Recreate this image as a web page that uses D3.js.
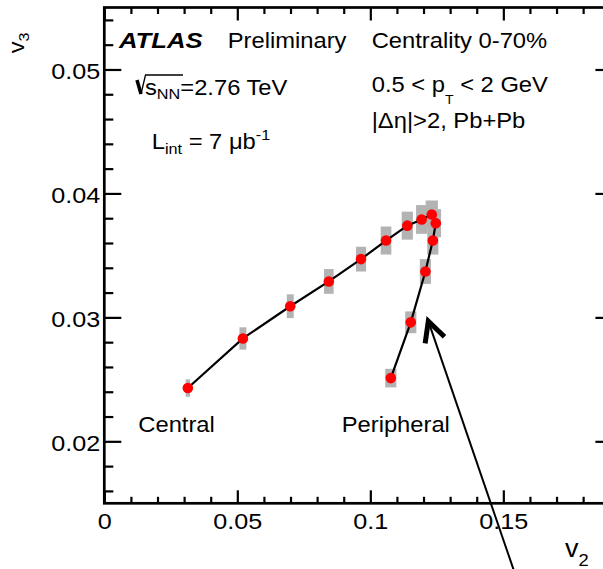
<!DOCTYPE html>
<html>
<head>
<meta charset="utf-8">
<script src="https://cdn.jsdelivr.net/npm/d3@7"></script>
<style>
body{margin:0;background:#fff}
svg{display:block;font-family:"Liberation Sans",Arial,sans-serif}
</style>
</head>
<body>
<script>
// v2 and v3 per centrality bin, going from central to peripheral
const v2 = [0.0314, 0.0521, 0.0699, 0.0844, 0.0965, 0.1059, 0.1139, 0.1193, 0.1231, 0.1246, 0.1235, 0.1207, 0.1152, 0.1077];
const v3 = [0.0243, 0.0283, 0.0309, 0.0329, 0.0347, 0.0362, 0.0374, 0.0379, 0.0383, 0.0376, 0.0362, 0.0337, 0.0296, 0.0251];
// half widths of the grey systematic boxes
const sysV2 = [0.0008, 0.0013, 0.0013, 0.0018, 0.0019, 0.0020, 0.0021, 0.0021, 0.0023, 0.0020, 0.0021, 0.0021, 0.0021, 0.0021];
const sysV3 = [0.0007, 0.0009, 0.00096, 0.0010, 0.0010, 0.00113, 0.00113, 0.00116, 0.00113, 0.00113, 0.00113, 0.0010, 0.00088, 0.00075];
const xTicks = [0, 0.05, 0.1, 0.15];
const yTicks = [0.02, 0.03, 0.04, 0.05];
// arrow pointing at the peripheral branch (tip, tail) in data units
const arrowTip = [0.1218, 0.0297];
const arrowTail = [0.1552, 0.0088];

const W = 603, H = 569;
const SX = 1.08; // the ROOT fonts are a bit wider than Liberation

const svg = d3.select("body").append("svg").attr("width", W).attr("height", H);

// right edge of the frame sits just outside the picture
const x = d3.scaleLinear().domain([0, 0.191]).range([104.3, 612.4]);
const y = d3.scaleLinear().domain([0.015, 0.055]).range([503.3, 7.5]);

const pts = v2.map((d, i) => ({x: d, y: v3[i], ex: sysV2[i], ey: sysV3[i]}));

// systematic boxes
svg.append("g").selectAll("rect")
  .data(pts)
  .join("rect")
  .attr("x", d => x(d.x - d.ex))
  .attr("y", d => y(d.y + d.ey))
  .attr("width", d => x(d.x + d.ex) - x(d.x - d.ex))
  .attr("height", d => y(d.y - d.ey) - y(d.y + d.ey))
  .attr("fill", "#b3b3b3");

// connecting line
svg.append("path")
  .datum(pts)
  .attr("fill", "none")
  .attr("stroke", "#000")
  .attr("stroke-width", 2.2)
  .attr("d", d3.line().x(d => x(d.x)).y(d => y(d.y)));

svg.append("g").selectAll("circle")
  .data(pts)
  .join("circle")
  .attr("cx", d => x(d.x))
  .attr("cy", d => y(d.y))
  .attr("r", 5.3)
  .attr("fill", "#ff0000");

// axes, ticks point inwards
const xMinor = d3.range(1, 20).filter(i => i % 5 !== 0).map(i => i / 100);
const yMinor = d3.range(16, 55, 2).filter(i => i % 10 !== 0).map(i => i / 1000);
const fmt = d => String(d);

function styleAxis(g) {
  g.select(".domain").remove();
  g.selectAll("line").attr("stroke-width", 2.2);
}

const gb = svg.append("g").attr("transform", `translate(0,${y.range()[0]})`);
gb.call(d3.axisBottom(x).tickValues(xTicks).tickSize(-13).tickPadding(10).tickFormat(fmt)).call(styleAxis);
gb.selectAll("text").attr("font-size", 22.5).attr("font-family", null).attr("transform", `scale(1.12,1)`);
svg.append("g").attr("transform", `translate(0,${y.range()[0]})`)
  .call(d3.axisBottom(x).tickValues(xMinor).tickSize(-6.5).tickFormat("")).call(styleAxis);

const gt = svg.append("g").attr("transform", `translate(0,${y.range()[1]})`);
gt.call(d3.axisTop(x).tickValues(xTicks).tickSize(-13).tickFormat("")).call(styleAxis);
svg.append("g").attr("transform", `translate(0,${y.range()[1]})`)
  .call(d3.axisTop(x).tickValues(xMinor).tickSize(-6.5).tickFormat("")).call(styleAxis);

const gl = svg.append("g").attr("transform", `translate(${x.range()[0]},0)`);
gl.call(d3.axisLeft(y).tickValues(yTicks).tickSize(-17).tickPadding(4).tickFormat(fmt)).call(styleAxis);
gl.selectAll("text").attr("font-size", 22.5).attr("font-family", null)
  .attr("x", -4 / 1.12).attr("dy", "0.4em").attr("transform", "scale(1.12,1)");
svg.append("g").attr("transform", `translate(${x.range()[0]},0)`)
  .call(d3.axisLeft(y).tickValues(yMinor).tickSize(-9).tickFormat("")).call(styleAxis);

svg.append("g").attr("transform", `translate(${x.range()[1]},0)`)
  .call(d3.axisRight(y).tickValues(yTicks).tickSize(-17).tickFormat("")).call(styleAxis);
svg.append("g").attr("transform", `translate(${x.range()[1]},0)`)
  .call(d3.axisRight(y).tickValues(yMinor).tickSize(-9).tickFormat("")).call(styleAxis);

svg.append("rect")
  .attr("x", x.range()[0]).attr("y", y.range()[1])
  .attr("width", x.range()[1] - x.range()[0])
  .attr("height", y.range()[0] - y.range()[1])
  .attr("fill", "none").attr("stroke", "#000").attr("stroke-width", 2.7);

// text helper: parts = [text, size, dy, extra attrs]
function label(px, py, parts, opts = {}) {
  const g = svg.append("g")
    .attr("transform", `translate(${px},${py}) ${opts.rotate ? "rotate(-90)" : ""} scale(${opts.sx || SX},1)`);
  const t = g.append("text").attr("x", 0).attr("y", 0).attr("fill", "#000");
  parts.forEach(p => {
    const ts = t.append("tspan").text(p[0]).attr("font-size", p[1] || 22);
    if (p[2]) ts.attr("dy", p[2]);
    if (p[3]) Object.entries(p[3]).forEach(([k, v]) => ts.attr(k, v));
  });
  return t;
}

label(119, 48, [["ATLAS", 22.5, 0, {"font-weight": "bold", "font-style": "italic"}]], {sx: 1.14});
label(227.7, 48, [["Preliminary"]]);
label(371.7, 48, [["Centrality 0-70%"]]);

// sqrt(s_NN)
svg.append("path").attr("d", "M137,80 L141,94").attr("stroke", "#000").attr("stroke-width", 3.5).attr("fill", "none");
svg.append("path").attr("d", "M141,94 L145.5,75 L183,75").attr("stroke", "#000").attr("stroke-width", 1.3).attr("fill", "none");
label(145, 95, [["s"], ["NN", 15, 4], ["=2.76 TeV", 22, -4]]);

label(151.7, 148.5, [["L"], ["int", 15, 5], [" = 7 μb", 22, -5], ["-1", 15, -9]]);

label(371.7, 91.7, [["0.5 < p"], ["T", 13, 12], [" < 2 GeV", 22, -12]]);
label(371.7, 128.3, [["|Δη|>2, Pb+Pb"]]);

label(138.3, 432.3, [["Central"]]);
label(341.7, 432.3, [["Peripheral"]]);

label(565, 556.7, [["v", 25], ["2", 17, 9]]);
label(24.3, 53.3, [["v", 22], ["3", 15, 5]], {rotate: true});

// arrow
const ax0 = x(arrowTip[0]), ay0 = y(arrowTip[1]);
const ax1 = x(arrowTail[0]), ay1 = y(arrowTail[1]);
svg.append("line")
  .attr("x1", ax0).attr("y1", ay0).attr("x2", ax1).attr("y2", ay1)
  .attr("stroke", "#000").attr("stroke-width", 2);
const ang = Math.atan2(ay1 - ay0, ax1 - ax0);
const arm = 22.5, spread = 27 * Math.PI / 180;
const head = [
  [ax0 + arm * Math.cos(ang + spread), ay0 + arm * Math.sin(ang + spread)],
  [ax0, ay0],
  [ax0 + arm * Math.cos(ang - spread), ay0 + arm * Math.sin(ang - spread)]
];
svg.append("path")
  .attr("d", d3.line()(head))
  .attr("fill", "none").attr("stroke", "#000").attr("stroke-width", 5)
  .attr("stroke-linejoin", "miter");
</script>
</body>
</html>
